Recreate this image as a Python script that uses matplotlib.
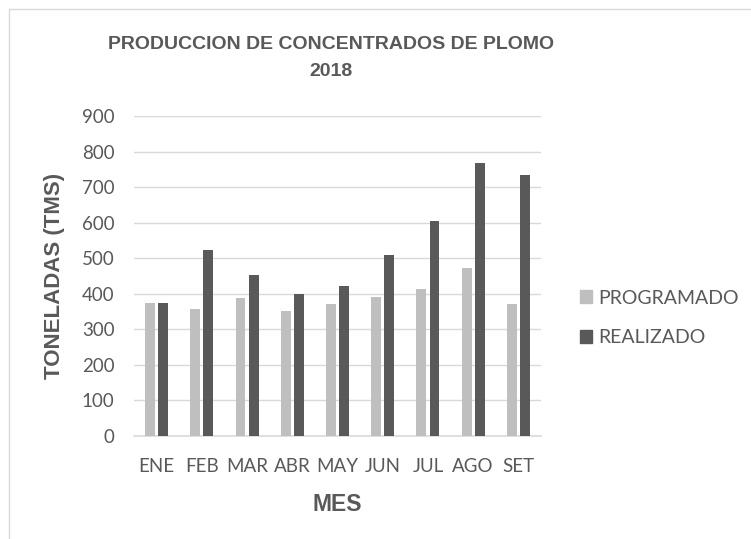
import matplotlib
matplotlib.use("Agg")
import matplotlib.pyplot as plt
from matplotlib.patches import Rectangle, Patch
import numpy as np

months = ["ENE", "FEB", "MAR", "ABR", "MAY", "JUN", "JUL", "AGO", "SET"]
programado = [373, 358, 387, 352, 370, 390, 414, 472, 370]
realizado = [374, 524, 453, 399, 422, 508, 604, 768, 733]
y_ticks = [0, 100, 200, 300, 400, 500, 600, 700, 800, 900]

C_PROG = "#BFBFBF"
C_REAL = "#595959"
C_TEXT = "#595959"
C_GRID = "#D9D9D9"

W, H = 751, 539
fig = plt.figure(figsize=(W / 100, H / 100), dpi=100)

# chart frame
fig.patches.append(Rectangle((9 / W, -0.05), 1.0, 1.05 - 9 / H, transform=fig.transFigure,
                             fill=False, edgecolor=C_GRID, linewidth=1.0))

left, right, top, bottom = 134, 541, 116, 436
ax = fig.add_axes([left / W, 1 - bottom / H, (right - left) / W, (bottom - top) / H])

x = np.arange(len(months))
bw = 0.22
off = 0.145
ax.bar(x - off, programado, width=bw, color=C_PROG, label="PROGRAMADO", zorder=3)
ax.bar(x + off, realizado, width=bw, color=C_REAL, label="REALIZADO", zorder=3)

ax.set_xlim(-0.5, len(months) - 0.5)
ax.set_ylim(0, 900)
ax.set_yticks(y_ticks)
ax.set_xticks(x)
ax.set_xticklabels(months)
ax.grid(axis="y", color=C_GRID, linewidth=1.0, zorder=0)
for s in ["top", "right", "left"]:
    ax.spines[s].set_visible(False)
ax.spines["bottom"].set_color(C_GRID)
ax.spines["bottom"].set_linewidth(1.2)
ax.tick_params(axis="both", length=0, labelsize=13.5, colors=C_TEXT)
ax.tick_params(axis="y", pad=14)
ax.tick_params(axis="x", pad=16)
for lab in ax.get_xticklabels() + ax.get_yticklabels():
    lab.set_fontfamily("Lato")

bold_family = ["Liberation Sans", "DejaVu Sans"]

ax.set_xlabel("MES", fontsize=16.5, fontweight="bold", color=C_TEXT,
              fontfamily=bold_family, labelpad=13)
ax.set_ylabel("TONELADAS (TMS)", fontsize=16, fontweight="bold", color=C_TEXT,
              fontfamily=bold_family, labelpad=12)

fig.text(331 / W, 1 - 58 / H, "PRODUCCION DE CONCENTRADOS DE PLOMO\n2018",
         ha="center", va="center", fontsize=14, fontweight="bold", color=C_TEXT,
         fontfamily=bold_family, linespacing=1.7)

handles = [Patch(color=C_PROG), Patch(color=C_REAL)]
leg = fig.legend(handles, ["PROGRAMADO", "REALIZADO"], loc="center left",
                 bbox_to_anchor=(562 / W, 1 - 318 / H), frameon=False,
                 handlelength=0.65, handleheight=0.65, handletextpad=0.3,
                 labelspacing=1.15, prop={"family": "Lato", "size": 14})
for t in leg.get_texts():
    t.set_color(C_TEXT)

fig.savefig("out.png", dpi=100)
